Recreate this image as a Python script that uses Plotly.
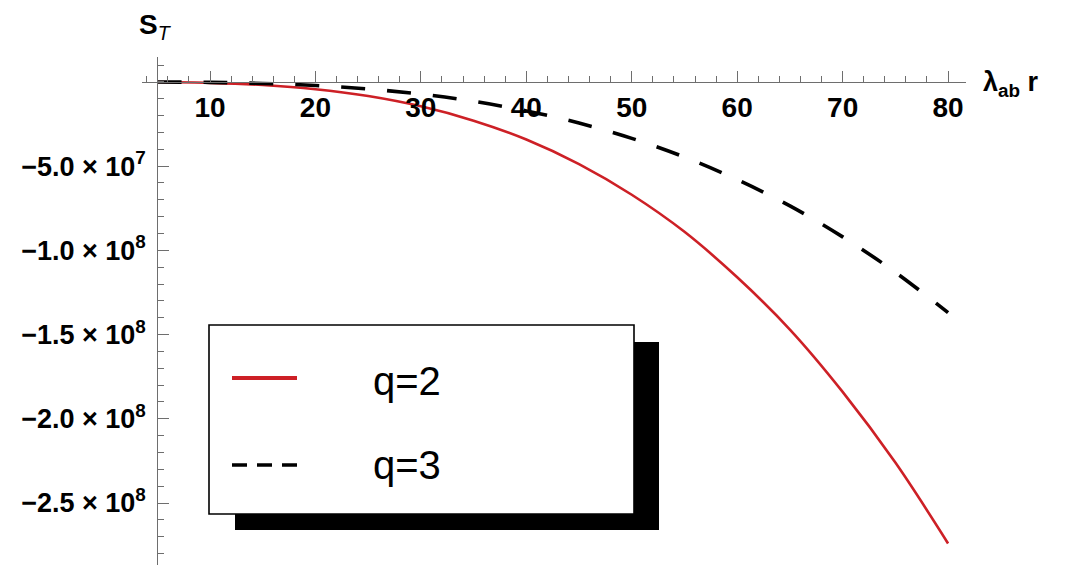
import plotly.graph_objects as go

# ---- data ----
x_vals = [5, 10, 15, 20, 25, 30, 35, 40, 45, 50, 55, 60, 65, 70, 75, 80]
s_q2 = [-6.7e4, -5.4e5, -1.8e6, -4.3e6, -8.4e6, -1.45e7, -2.3e7, -3.42e7,
        -4.88e7, -6.7e7, -8.9e7, -1.16e8, -1.47e8, -1.84e8, -2.26e8, -2.74e8]
s_q3 = [-3.4e4, -2.7e5, -9.0e5, -2.1e6, -4.2e6, -7.2e6, -1.15e7, -1.72e7,
        -2.44e7, -3.35e7, -4.46e7, -5.8e7, -7.36e7, -9.2e7, -1.13e8, -1.37e8]
x_ticks = [10, 20, 30, 40, 50, 60, 70, 80]
y_ticks = [-2.5e8, -2.0e8, -1.5e8, -1.0e8, -5.0e7]
y_ticktext = ["\u22122.5 \u00d7 10<sup>8</sup>",
              "\u22122.0 \u00d7 10<sup>8</sup>",
              "\u22121.5 \u00d7 10<sup>8</sup>",
              "\u22121.0 \u00d7 10<sup>8</sup>",
              "\u22125.0 \u00d7 10<sup>7</sup>"]
legend_names = ["q=2", "q=3"]

# ---- layout geometry (page body adds an 8px offset) ----
OFF = 8
W, H = 1065 - OFF, 567 - OFF
L, R, T, B = 142 - OFF, 99, 57 - OFF, 2
XR = [3.55, 81.7]
YR = [-2.868e8, 1.48e7]
y_axis_x = 5.0
x_axis_y = 0.0

PW = W - L - R
PH = H - T - B


def px(x):
    # screen pixel -> paper fraction
    return (x - OFF - L) / PW


def py(y):
    return (H - B - (y - OFF)) / PH


FONT = "Liberation Sans, Arial, sans-serif"
RED = "rgb(205,32,38)"

fig = go.Figure()
fig.add_trace(go.Scatter(x=x_vals, y=s_q2, mode="lines", name=legend_names[0],
                         line=dict(color=RED, width=2.6, shape="spline"),
                         showlegend=False))
fig.add_trace(go.Scatter(x=x_vals, y=s_q3, mode="lines", name=legend_names[1],
                         line=dict(color="black", width=3.6, dash="24px,22px",
                                   shape="spline"),
                         showlegend=False))

axis_col = "#6e6e6e"
fig.update_layout(
    width=W, height=H,
    margin=dict(l=L, r=R, t=T, b=B),
    paper_bgcolor="white", plot_bgcolor="white",
    font=dict(family=FONT, color="black"),
    xaxis=dict(
        range=XR, anchor="free",
        position=(x_axis_y - YR[0]) / (YR[1] - YR[0]),
        showgrid=False, zeroline=False,
        showline=True, linecolor=axis_col, linewidth=1.2,
        tickvals=x_ticks, ticks="inside", ticklen=11, tickwidth=1.2,
        tickcolor=axis_col,
        tickfont=dict(size=28, family=FONT, weight="bold"),
        minor=dict(dtick=2, tick0=0, ticks="inside", ticklen=6,
                   tickwidth=1, tickcolor=axis_col, showgrid=False),
    ),
    yaxis=dict(
        range=YR, anchor="free",
        position=(y_axis_x - XR[0]) / (XR[1] - XR[0]),
        showgrid=False, zeroline=False,
        showline=True, linecolor=axis_col, linewidth=1.2,
        tickvals=y_ticks, ticktext=y_ticktext,
        ticks="inside", ticklen=11, tickwidth=1.2, tickcolor=axis_col,
        ticklabelstandoff=6,
        tickfont=dict(size=27, family=FONT, weight="bold"),
        minor=dict(dtick=1e7, tick0=0, ticks="inside", ticklen=6,
                   tickwidth=1, tickcolor=axis_col, showgrid=False),
    ),
)

# axis labels
fig.add_annotation(x=px(137), y=py(26), xref="paper", yref="paper",
                   xanchor="left", yanchor="middle", showarrow=False,
                   text="<b>S</b><sub><i>T</i></sub>",
                   font=dict(size=28, family=FONT))
fig.add_annotation(x=px(981), y=py(84), xref="paper", yref="paper",
                   xanchor="left", yanchor="middle", showarrow=False,
                   text="<b>\u03bb<sub>ab</sub> r</b>",
                   font=dict(size=27, family=FONT))

# legend box with drop shadow
shapes = []
shapes.append(dict(type="rect", xref="paper", yref="paper",
                   x0=px(235), x1=px(659), y0=py(530), y1=py(342),
                   fillcolor="black", line=dict(width=0)))
shapes.append(dict(type="rect", xref="paper", yref="paper",
                   x0=px(209), x1=px(634), y0=py(514), y1=py(325),
                   fillcolor="white", line=dict(color="black", width=1.6)))
shapes.append(dict(type="line", xref="paper", yref="paper",
                   x0=px(232), x1=px(297), y0=py(378), y1=py(378),
                   line=dict(color=RED, width=4)))
shapes.append(dict(type="line", xref="paper", yref="paper",
                   x0=px(232), x1=px(297), y0=py(465), y1=py(465),
                   line=dict(color="black", width=3.5, dash="15px,10px")))
fig.update_layout(shapes=shapes)

for name, ypix in zip(legend_names, [381, 465]):
    fig.add_annotation(x=px(371), y=py(ypix), xref="paper", yref="paper",
                       xanchor="left", yanchor="middle", showarrow=False,
                       text=name, font=dict(size=40, family=FONT))

fig.write_html("out.html")
